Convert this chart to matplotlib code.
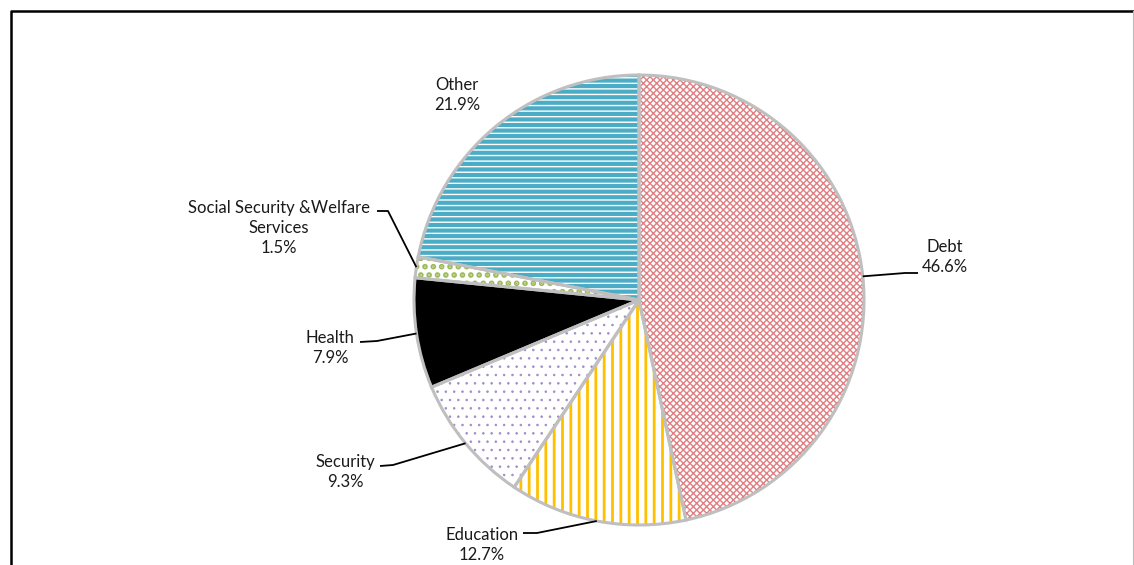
import numpy as np
import matplotlib.pyplot as plt

plt.rcParams['font.family'] = ['Lato', 'DejaVu Sans']

# budget shares, clockwise from twelve o'clock
sectors = ['Debt', 'Education', 'Security', 'Health',
           'Social Security &Welfare\nServices', 'Other']
shares = [46.6, 12.7, 9.3, 7.9, 1.5, 21.9]
fills = ['white', 'white', 'white', 'black', 'white', 'white']
hatch_colors = ['#E07E82', '#FFC000', '#A08CC8', 'black', '#9BBB59', '#4BACC6']
hatches = ['xxxxx', '||', '..', None, '..', '---']
hatch_widths = [1.0, 2.0, 0.6, 1.0, 2.8, 3.0]

W, H = 1134, 565
fig = plt.figure(figsize=(W / 100, H / 100), dpi=100)
ax = fig.add_axes([0, 0, 1, 1])

cx, cy, R = 639, H - 300, 225

# hatched fill layer
wedges, _ = ax.pie(shares, startangle=90, counterclock=False, radius=R,
                   center=(cx, cy), frame=True,
                   wedgeprops=dict(linewidth=0))
for w, fc, hc, h, hw in zip(wedges, fills, hatch_colors, hatches, hatch_widths):
    w.set_facecolor(fc)
    w.set_edgecolor(hc)
    w.set_hatch(h)
    w.set_linewidth(0)
    if hasattr(w, 'set_hatch_linewidth'):
        w.set_hatch_linewidth(hw)
    else:
        w._hatch_linewidth = hw

# grey outline layer on top
ax.pie(shares, startangle=90, counterclock=False, radius=R,
       center=(cx, cy), frame=True,
       wedgeprops=dict(fill=False, edgecolor='#BFBFBF', linewidth=2.2))
ax.set_xlim(0, W)
ax.set_ylim(0, H)
ax.set_aspect('equal')
ax.axis('off')

# label centre, and where the leader line leaves the text (None = no leader)
label_pos = [(945, H - 257), (482, H - 545), (345, H - 472), (330, H - 348),
             (279, H - 228), (457, H - 95)]
leader_start = [(918, H - 273), (523, H - 533), (380, H - 466), (360, H - 342),
                (377, H - 211), None]
leader_bend = [(905, H - 273), (537, H - 533), (393, H - 465), (377, H - 341),
               (388, H - 211), None]

for w, name, val, (lx, ly), st, bd in zip(wedges, sectors, shares, label_pos,
                                          leader_start, leader_bend):
    ax.text(lx, ly, f'{name}\n{val:.1f}%', ha='center', va='center',
            fontsize=12, color='#1a1a1a', linespacing=1.3)
    if st is None:
        continue
    mid = np.deg2rad((w.theta1 + w.theta2) / 2)
    ex, ey = cx + R * np.cos(mid), cy + R * np.sin(mid)
    ax.plot([st[0], bd[0], ex], [st[1], bd[1], ey], color='black', lw=1.3,
            solid_capstyle='butt')

# chart frame
ax.plot([11, 11, W - 1], [0, H - 11, H - 11], color='black', lw=1.8)
ax.plot([W - 1, W - 1], [0, H - 11], color='#BBBBBB', lw=0.8)

fig.savefig('out.png', dpi=100)
